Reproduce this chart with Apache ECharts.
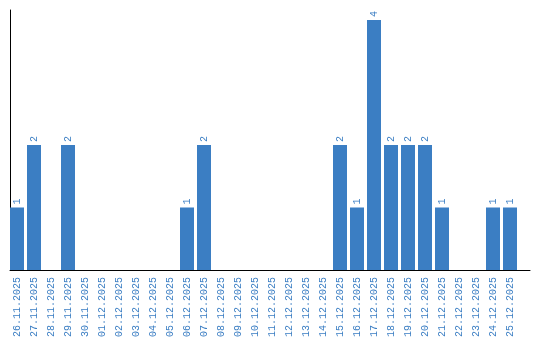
<!DOCTYPE html>
<html><head><meta charset="utf-8">
<script src="https://cdn.jsdelivr.net/npm/echarts@6/dist/echarts.min.js"></script>
<style>html,body{margin:0;padding:0;background:#fff}#c{width:540px;height:340px}</style>
</head><body><div id="c"></div>
<script>
const categories = ["26.11.2025","27.11.2025","28.11.2025","29.11.2025","30.11.2025","01.12.2025","02.12.2025","03.12.2025","04.12.2025","05.12.2025","06.12.2025","07.12.2025","08.12.2025","09.12.2025","10.12.2025","11.12.2025","12.12.2025","13.12.2025","14.12.2025","15.12.2025","16.12.2025","17.12.2025","18.12.2025","19.12.2025","20.12.2025","21.12.2025","22.12.2025","23.12.2025","24.12.2025","25.12.2025"];
const values = [1,2,0,2,0,0,0,0,0,0,1,2,0,0,0,0,0,0,0,2,1,4,2,2,2,1,0,0,1,1];
const yMax = 4.16;
const blue = '#3b7ec3';
const font = 'Liberation Mono';
const chart = echarts.init(document.getElementById('c'), null, {renderer:'canvas'});
chart.setOption({
  animation:false,
  grid:[
    {left:8.5, width:510, top:10, bottom:70, containLabel:false},
    {left:10, right:10, top:10, bottom:70, containLabel:false}
  ],
  xAxis:[{
    type:'category', data:categories, gridIndex:0,
    axisLine:{show:false}, axisTick:{show:false},
    axisLabel:{rotate:90, margin:7, color:blue, fontFamily:font, fontSize:10, interval:0}
  },{
    type:'value', gridIndex:1, min:0, max:1,
    axisLine:{show:true, lineStyle:{color:'#000', width:1}},
    axisTick:{show:false}, axisLabel:{show:false}, splitLine:{show:false}
  }],
  yAxis:[{
    type:'value', gridIndex:0, min:0, max:yMax, offset:-2,
    axisLine:{show:true, lineStyle:{color:'#000', width:1}},
    axisTick:{show:false}, axisLabel:{show:false}, splitLine:{show:false}
  },{
    type:'value', gridIndex:1, min:0, max:1, show:false
  }],
  series:[{
    type:'bar', data:values, barWidth:14, xAxisIndex:0, yAxisIndex:0,
    itemStyle:{color:blue},
    label:{
      show:true, position:'top', rotate:90, align:'left', verticalAlign:'middle', distance:3,
      color:blue, fontFamily:font, fontSize:10,
      formatter:p=>p.value>0?String(p.value):''
    }
  }]
});
</script></body></html>
